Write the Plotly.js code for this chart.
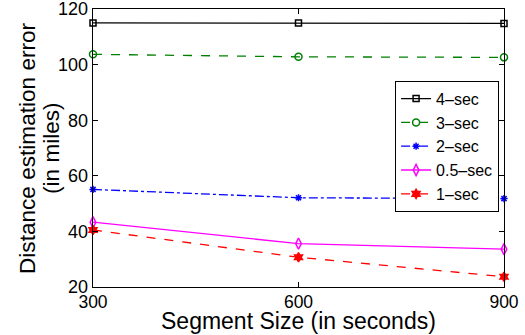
<!DOCTYPE html>
<html><head><meta charset="utf-8">
<script src="https://cdn.plot.ly/plotly-3.0.1.min.js"></script>
<style>html,body{margin:0;padding:0;background:#fff}#chart{width:525px;height:335px}</style>
</head><body><div id="chart"></div>
<script>
var segmentSizes = [300, 600, 900];
var seriesNames = ['4\u2013sec', '3\u2013sec', '2\u2013sec', '0.5\u2013sec', '1\u2013sec'];
var sec4 = [115.0, 115.0, 114.8];
var sec3 = [103.7, 102.8, 102.6];
var sec2 = [55.1, 52.1, 51.8];
var sec05 = [43.3, 35.6, 33.6];
var sec1 = [40.5, 30.7, 23.7];
var yTicks = [20, 40, 60, 80, 100, 120];
var xTitle = 'Segment Size (in seconds)';
var yTitleLines = ['Distance estimation error', '(in miles)'];

var styles = [
  {c:'#000000', dash:'solid', sym:'square-open', size:6},
  {c:'#008000', dash:'dash', sym:'circle-open', size:7},
  {c:'#0000ff', dash:'dashdot', sym:'asterisk-open', size:6},
  {c:'#ff00ff', dash:'solid', sym:'diamond-tall-open', size:8},
  {c:'#ff0000', dash:'dash', sym:'hexagram', size:7}
];
var values = [sec4, sec3, sec2, sec05, sec1];
var traces = values.map(function(v, i){
  var s = styles[i];
  return {x: segmentSizes, y: v, name: seriesNames[i], type:'scatter', mode:'lines+markers',
    cliponaxis:false,
    line:{color:s.c, dash:s.dash, width:1.3},
    marker:{symbol:s.sym, size:s.size, color:s.c, line:{color:s.c, width:1.5}}};
});
var font = 'Liberation Sans, Arial, Helvetica, sans-serif';
var layout = {
  width:525, height:335,
  margin:{l:93, r:21, t:9, b:48},
  paper_bgcolor:'#fff', plot_bgcolor:'#fff',
  font:{family:font, color:'#000'},
  showlegend:true,
  legend:{x:0.735, y:0.742, xanchor:'left', yanchor:'top', bordercolor:'#000', borderwidth:1,
    bgcolor:'#fff', font:{size:16, family:font}, tracegroupgap:0, itemwidth:30},
  xaxis:{range:[300, 900], tickvals:segmentSizes, ticks:'inside', ticklen:5, tickcolor:'#000',
    showline:true, linecolor:'#000', linewidth:1.3, mirror:'ticks', showgrid:false, zeroline:false,
    tickfont:{size:17.5}, ticklabeloverflow:'allow', ticklabelstandoff:-1},
  yaxis:{range:[19.999, 120.001], tickvals:yTicks, ticks:'inside', ticklen:5, tickcolor:'#000',
    showline:true, linecolor:'#000', linewidth:1.3, mirror:'ticks', showgrid:false, zeroline:false,
    tickfont:{size:18}, ticklabeloverflow:'allow'},
  annotations:[
    {text:xTitle, xref:'paper', yref:'paper', x:0.5, y:-0.121, xanchor:'center', yanchor:'middle',
      showarrow:false, borderpad:0, font:{size:23, family:font}},
    {text:yTitleLines[0], xref:'paper', yref:'paper', x:(27-93)/411, y:0.5, xanchor:'center', yanchor:'middle',
      textangle:-90, showarrow:false, font:{size:22.6, family:font}},
    {text:yTitleLines[1], xref:'paper', yref:'paper', x:(51-93)/411, y:0.5, xanchor:'center', yanchor:'middle',
      textangle:-90, showarrow:false, font:{size:22.6, family:font}}
  ]
};
Plotly.newPlot('chart', traces, layout, {displayModeBar:false, staticPlot:true});
</script></body></html>
